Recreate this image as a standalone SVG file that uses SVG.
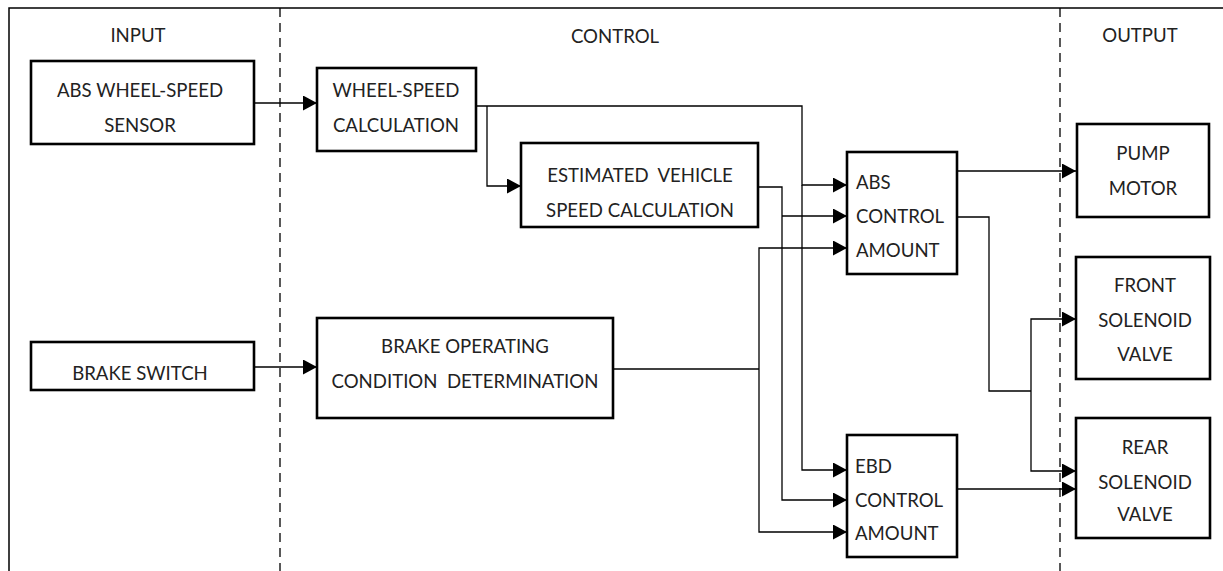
<svg xmlns="http://www.w3.org/2000/svg" width="1223" height="571" viewBox="0 0 1223 571">
<style>
.box{fill:#fff;stroke:#000;stroke-width:2.6}
.t{font-family:Lato,"Liberation Sans",sans-serif;font-size:18.6px;fill:#222;text-anchor:middle;white-space:pre}
.l{text-anchor:start}
.c{fill:none;stroke:#000;stroke-width:1.3}
.a{marker-end:url(#arr)}
.frame{fill:none;stroke:#000;stroke-width:1.5}
.dash{fill:none;stroke:#000;stroke-width:1.3;stroke-dasharray:9 6}
</style>
<defs>
<marker id="arr" markerUnits="userSpaceOnUse" markerWidth="14" markerHeight="15" refX="14" refY="7.5" orient="auto">
<path d="M0,0 L14,7.5 L0,15 z" fill="#000"/>
</marker>
</defs>
<rect width="1223" height="571" fill="#fff"/>
<g id="frame">
<path class="frame" d="M9,571 V8 H1223"/>
<path class="dash" d="M280,8 V571"/>
<path class="dash" d="M1060,8 V571"/>
<text class="t" x="138" y="42">INPUT</text>
<text class="t" x="615" y="43">CONTROL</text>
<text class="t" x="1140" y="42">OUTPUT</text>
</g>
<g id="connectors">
<path class="c a" d="M254,103 H317"/>
<path class="c a" d="M476,106 H802 V185 H847"/>
<path class="c a" d="M802,185 V470 H847"/>
<path class="c a" d="M487,106 V186 H521"/>
<path class="c a" d="M758,187 H782 V500 H847"/>
<path class="c a" d="M782,216 H847"/>
<path class="c a" d="M254,367 H317"/>
<path class="c" d="M613,369 H759"/>
<path class="c a" d="M759,369 V248 H847"/>
<path class="c a" d="M759,369 V532 H847"/>
<path class="c a" d="M957,171 H1076"/>
<path class="c" d="M957,217 H989 V391 H1031"/>
<path class="c a" d="M1031,391 V319 H1076"/>
<path class="c a" d="M1031,391 V471 H1076"/>
<path class="c a" d="M957,489 H1076"/>
</g>
<g id="abs-sensor">
<rect class="box" x="31" y="61" width="223" height="83"/>
<text class="t" x="140" y="97">ABS WHEEL-SPEED</text>
<text class="t" x="140" y="132">SENSOR</text>
</g>
<g id="wheel-speed-calc">
<rect class="box" x="317" y="68" width="159" height="83"/>
<text class="t" x="396" y="97">WHEEL-SPEED</text>
<text class="t" x="396" y="132">CALCULATION</text>
</g>
<g id="est-vehicle-speed">
<rect class="box" x="521" y="143" width="237" height="84"/>
<text class="t" x="640" y="182">ESTIMATED  VEHICLE</text>
<text class="t" x="640" y="217">SPEED CALCULATION</text>
</g>
<g id="brake-switch">
<rect class="box" x="31" y="342" width="223" height="48"/>
<text class="t" x="140" y="380">BRAKE SWITCH</text>
</g>
<g id="brake-operating">
<rect class="box" x="317" y="318" width="296" height="100"/>
<text class="t" x="465" y="353">BRAKE OPERATING</text>
<text class="t" x="465" y="388">CONDITION  DETERMINATION</text>
</g>
<g id="abs-control">
<rect class="box" x="847" y="152" width="110" height="122"/>
<text class="t l" x="856" y="189">ABS</text>
<text class="t l" x="856" y="223">CONTROL</text>
<text class="t l" x="856" y="257">AMOUNT</text>
</g>
<g id="ebd-control">
<rect class="box" x="847" y="435" width="110" height="122"/>
<text class="t l" x="855" y="473">EBD</text>
<text class="t l" x="855" y="507">CONTROL</text>
<text class="t l" x="855" y="540">AMOUNT</text>
</g>
<g id="pump-motor">
<rect class="box" x="1077" y="124" width="132" height="93"/>
<text class="t" x="1143" y="160">PUMP</text>
<text class="t" x="1143" y="195">MOTOR</text>
</g>
<g id="front-solenoid">
<rect class="box" x="1076" y="257" width="134" height="122"/>
<text class="t" x="1145" y="292">FRONT</text>
<text class="t" x="1145" y="327">SOLENOID</text>
<text class="t" x="1145" y="361">VALVE</text>
</g>
<g id="rear-solenoid">
<rect class="box" x="1076" y="418" width="134" height="120"/>
<text class="t" x="1145" y="454">REAR</text>
<text class="t" x="1145" y="489">SOLENOID</text>
<text class="t" x="1145" y="521">VALVE</text>
</g>
</svg>
